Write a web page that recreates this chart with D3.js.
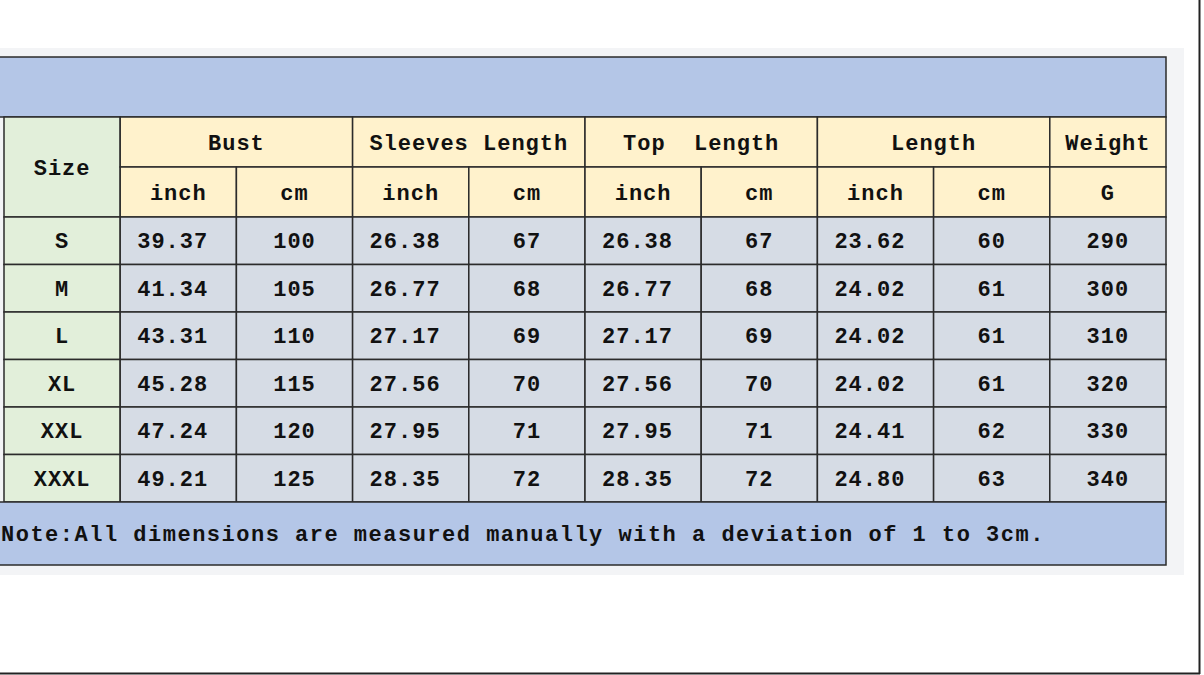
<!DOCTYPE html>
<html><head><meta charset="utf-8">
<script src="https://cdn.jsdelivr.net/npm/d3@7"></script>
<style>body{margin:0;background:#fff}svg{display:block}text{white-space:pre}</style>
</head><body>
<script>
// Size chart data
const sizes = ["S", "M", "L", "XL", "XXL", "XXXL"];
const groups = [["Bust", 2], ["Sleeves Length", 2], ["Top  Length", 2], ["Length", 2], ["Weight", 1]];
const units = ["inch", "cm", "inch", "cm", "inch", "cm", "inch", "cm", "G"];
const bustInch = ["39.37", "41.34", "43.31", "45.28", "47.24", "49.21"];
const bustCm = [100, 105, 110, 115, 120, 125];
const sleeveInch = ["26.38", "26.77", "27.17", "27.56", "27.95", "28.35"];
const sleeveCm = [67, 68, 69, 70, 71, 72];
const topInch = ["26.38", "26.77", "27.17", "27.56", "27.95", "28.35"];
const topCm = [67, 68, 69, 70, 71, 72];
const lengthInch = ["23.62", "24.02", "24.02", "24.02", "24.41", "24.80"];
const lengthCm = [60, 61, 61, 61, 62, 63];
const weightG = [290, 300, 310, 320, 330, 340];
const note = "Note:All dimensions are measured manually with a deviation of 1 to 3cm.";

const columns = [bustInch, bustCm, sleeveInch, sleeveCm, topInch, topCm, lengthInch, lengthCm, weightG];

const width = 1204, height = 675;
const x = d3.scaleLinear().domain([0, 10]).range([4, 1166]);
const y = d3.scaleLinear().domain([0, sizes.length]).range([217, 502]);
const font = "'Liberation Mono', 'DejaVu Sans Mono', monospace";

const svg = d3.select("body").append("svg")
    .attr("width", width).attr("height", height)
    .attr("font-family", font).attr("font-weight", "bold").attr("font-size", 22)
    .attr("letter-spacing", 1).attr("fill", "#111");

// backdrop
svg.append("rect").attr("x", 0).attr("y", 48).attr("width", 1184).attr("height", 527).attr("fill", "#f3f4f6");
svg.append("line").attr("x1", 1199.5).attr("x2", 1199.5).attr("y1", 0).attr("y2", 674).attr("stroke", "#222").attr("stroke-width", 2);
svg.append("line").attr("x1", 0).attr("x2", 1200).attr("y1", 673.5).attr("y2", 673.5).attr("stroke", "#222").attr("stroke-width", 2);

const stroke = "#2b2b2b";
function cell(x0, y0, x1, y1, fill, text, anchor = "middle") {
    svg.append("rect").attr("x", x0).attr("y", y0).attr("width", x1 - x0).attr("height", y1 - y0)
        .attr("fill", fill).attr("stroke", stroke).attr("stroke-width", 1.5);
    if (text != null) {
        svg.append("text")
            .attr("x", anchor === "middle" ? (x0 + x1) / 2 : x0 + 3)
            .attr("y", (y0 + y1) / 2).attr("dy", "0.35em")
            .attr("text-anchor", anchor).text(text);
    }
}

// title band
cell(-2, 57, x(10), 117, "#b4c6e7", null);
// size header
cell(x(0), 117, x(1), 217, "#e2efda", "Size");
// group headers
let c = 1;
groups.forEach(([name, span]) => {
    cell(x(c), 117, x(c + span), 167, "#fff2cc", name);
    c += span;
});
units.forEach((u, i) => cell(x(i + 1), 167, x(i + 2), 217, "#fff2cc", u));

// data rows
sizes.forEach((s, r) => {
    cell(x(0), y(r), x(1), y(r + 1), "#e2efda", s);
    columns.forEach((col, i) => {
        const isInch = i % 2 === 0 && i < 8;
        if (isInch) {
            svg.append("rect").attr("x", x(i + 1)).attr("y", y(r)).attr("width", x(i + 2) - x(i + 1)).attr("height", y(r + 1) - y(r))
                .attr("fill", "#d6dce5").attr("stroke", stroke).attr("stroke-width", 1.5);
            svg.append("text").attr("x", x(i + 1) + 17).attr("y", (y(r) + y(r + 1)) / 2).attr("dy", "0.35em").text(col[r]);
        } else {
            cell(x(i + 1), y(r), x(i + 2), y(r + 1), "#d6dce5", col[r]);
        }
    });
});
// note
cell(-2, 502, x(10), 565, "#b4c6e7", note, "start");
svg.selectAll("text").filter(function () { return this.textContent === note; }).attr("letter-spacing", 1.5);
</script>
</body></html>
